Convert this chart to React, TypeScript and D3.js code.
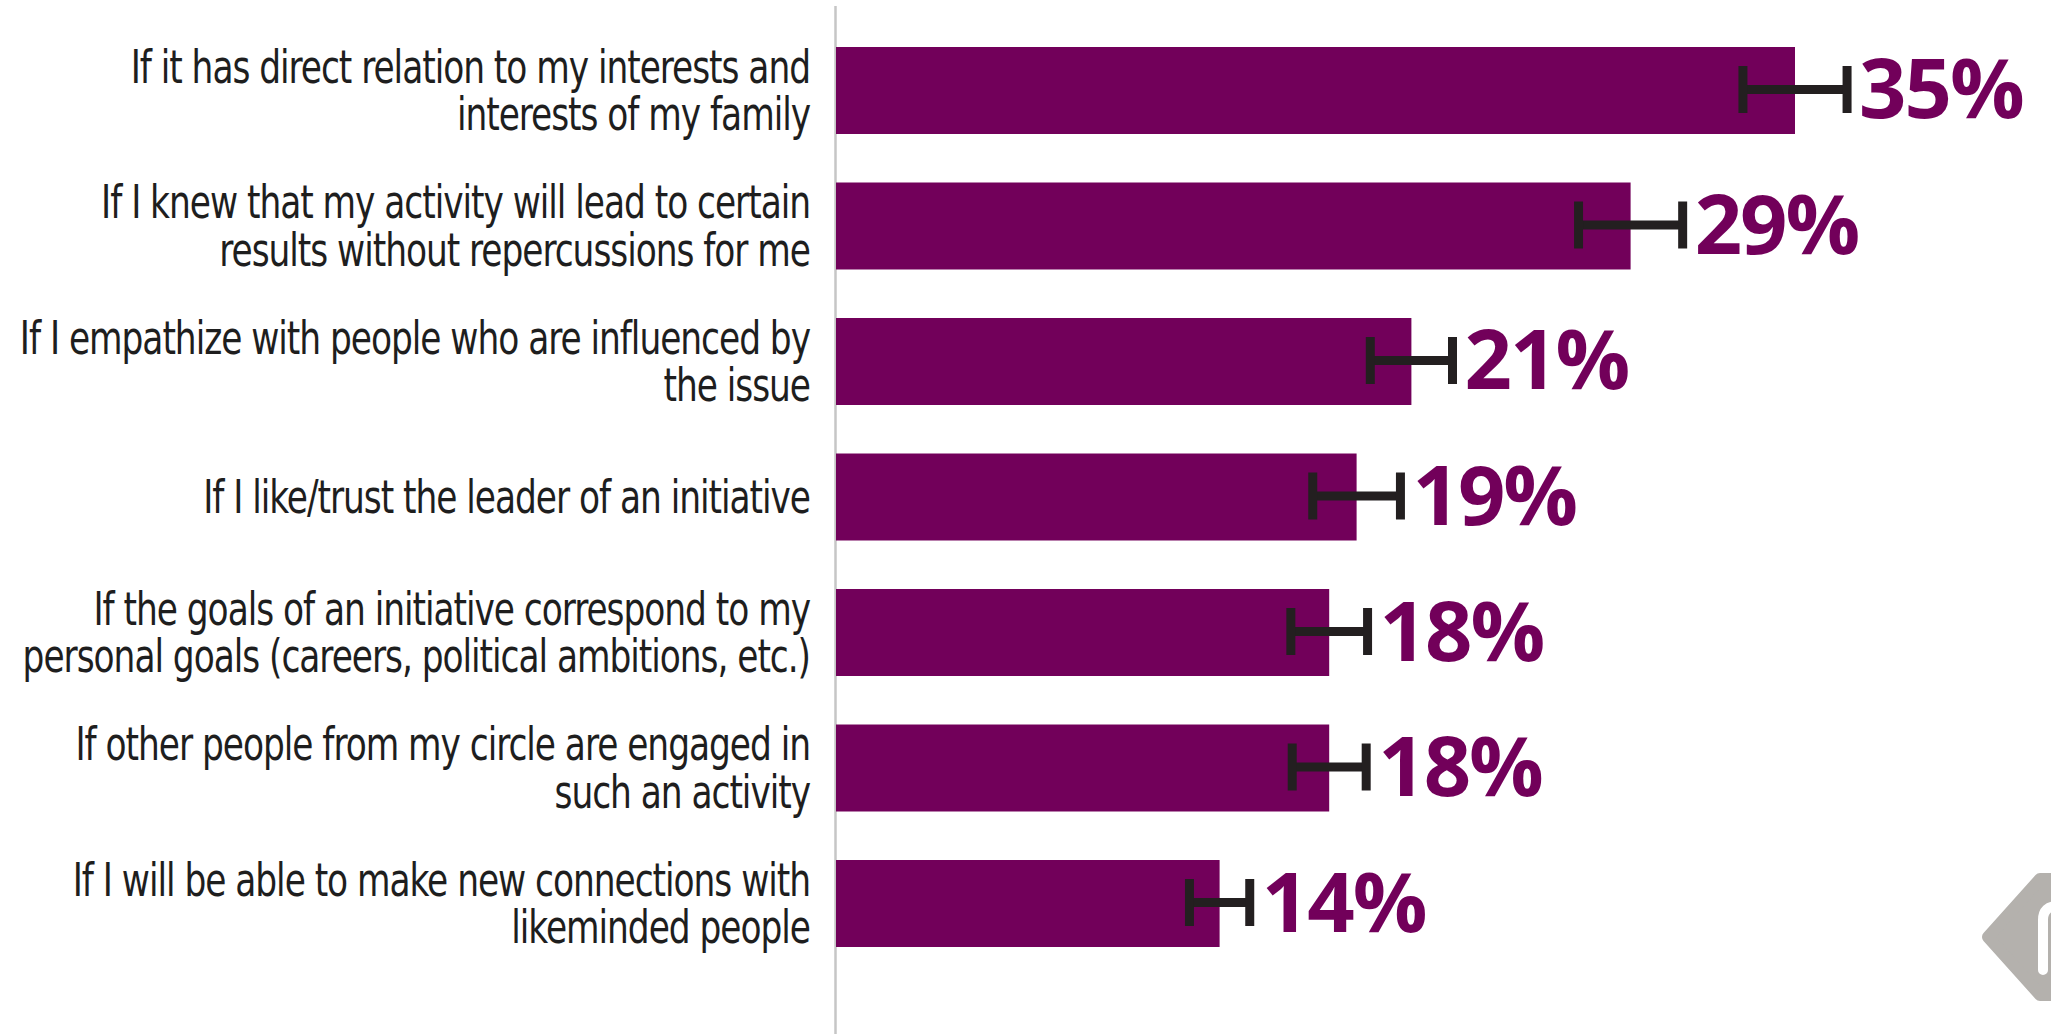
import React from "react";
import * as d3 from "d3";

const categories: string[][] = [
  ["If it has direct relation to my interests and", "interests of my family"],
  ["If I knew that my activity will lead to certain", "results without repercussions for me"],
  ["If I empathize with people who are influenced by", "the issue"],
  ["If I like/trust the leader of an initiative"],
  ["If the goals of an initiative correspond to my", "personal goals (careers, political ambitions, etc.)"],
  ["If other people from my circle are engaged in", "such an activity"],
  ["If I will be able to make new connections with", "likeminded people"],
];
const values = [35, 29, 21, 19, 18, 18, 14];
const errors = [1.9, 1.9, 1.5, 1.6, 1.4, 1.35, 1.1];

const W = 2051;
const H = 1034;
const BAR = "#72005A";
const ERR = "#231F20";
const TXT = "#1e1e1e";

export default function App() {
  const ids = categories.map((_, i) => String(i));
  const y = d3.scaleBand<string>().domain(ids).range([47, 947]).paddingInner(0.358).paddingOuter(0);
  const x = d3.scaleLinear().domain([0, 35]).range([836, 1795]);
  const bw = y.bandwidth();
  const labelFs = 44;
  const lineH = 47.5;
  const capH = 32;
  const valFs = 83;
  const capHalf = 23.5;
  const labelX = 810;
  const sx = 0.87;
  const sy = 1.03;

  return (
    <svg
      width={W}
      height={H}
      style={{ position: "fixed", left: 0, top: 0, background: "#fff" }}
    >
      <rect x={0} y={0} width={W} height={H} fill="#fff" />
      {/* axis line */}
      <line x1={x(0) - 0.5} x2={x(0) - 0.5} y1={6} y2={H} stroke="#c6c6c6" strokeWidth={2.5} />
      {categories.map((lines, i) => {
        const cy = (y(String(i)) as number) + bw / 2;
        const v = values[i];
        const e = errors[i];
        const x0 = x(v - e);
        const x1 = x(v + e);
        const firstBase = cy + capH / 2 - ((lines.length - 1) * lineH) / 2;
        return (
          <g key={i}>
            <rect x={x(0)} y={y(String(i))} width={x(v) - x(0)} height={bw} fill={BAR} />
            <line x1={x0} x2={x1} y1={cy - 1} y2={cy - 1} stroke={ERR} strokeWidth={9} />
            <line x1={x0} x2={x0} y1={cy - 1 - capHalf} y2={cy - 1 + capHalf} stroke={ERR} strokeWidth={9} />
            <line x1={x1} x2={x1} y1={cy - 1 - capHalf} y2={cy - 1 + capHalf} stroke={ERR} strokeWidth={9} />
            <text
              x={x1 + 12}
              y={cy + 28}
              fill={BAR}
              fontFamily="'Open Sans', sans-serif"
              fontWeight={700}
              fontSize={valFs}
              letterSpacing={-2}
            >
              {d3.format("d")(v)}%
            </text>
            {lines.map((ln, j) => {
              const base = firstBase + j * lineH;
              return (
                <g key={j} transform={`translate(${labelX},${base}) scale(${sx},${sy})`}>
                  <text
                    x={0}
                    y={0}
                    textAnchor="end"
                    fill={TXT}
                    fontFamily="'DejaVu Sans Condensed', 'Liberation Sans Narrow', sans-serif"
                    fontSize={labelFs}
                    letterSpacing={-1.2}
                  >
                    {ln}
                  </text>
                </g>
              );
            })}
          </g>
        );
      })}
      {/* partial watermark logo at bottom right */}
      <g>
        <path
          d="M1988,937 L2040,879 L2110,879 L2162,937 L2110,995 L2040,995 Z"
          fill="#b4b1ad"
          stroke="#b4b1ad"
          strokeWidth={12}
          strokeLinejoin="round"
        />
        <path
          d="M2043,970 V920 Q2043,906 2058,906"
          fill="none"
          stroke="#fff"
          strokeWidth={10}
          strokeLinecap="round"
        />
      </g>
    </svg>
  );
}
